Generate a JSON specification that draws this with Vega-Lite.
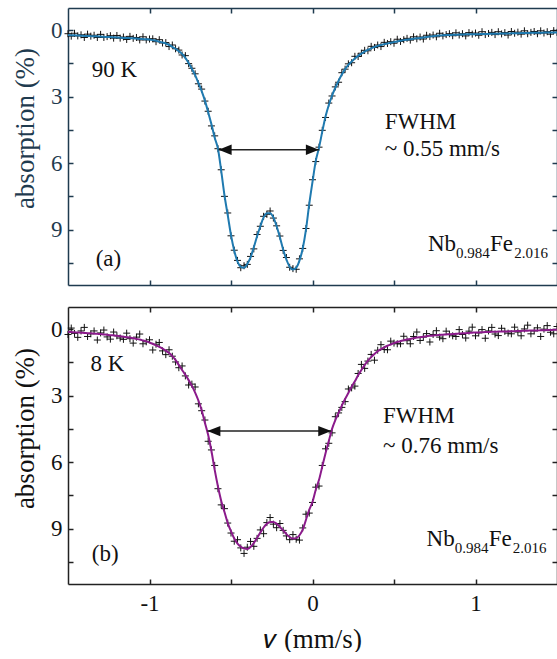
{
  "$schema": "https://vega.github.io/schema/vega-lite/v6.json",
  "padding": {"left": 11, "top": 7, "right": 0, "bottom": 0},
  "spacing": 20,
  "config": {"font": "Liberation Serif", "view": {"stroke": null}, "axis": {"grid": false, "labelFont": "Liberation Serif", "titleFont": "Liberation Serif"}, "text": {"font": "Liberation Serif"}},
  "datasets": {
    "a": [
      {"x":-1.50,"fit":0.22,"obs":0.16},{"x":-1.48,"fit":0.23,"obs":0.27},{"x":-1.46,"fit":0.23,"obs":0.14},{"x":-1.44,"fit":0.24,"obs":0.26},{"x":-1.42,"fit":0.25,"obs":0.21},{"x":-1.40,"fit":0.26,"obs":0.33},{"x":-1.38,"fit":0.26,"obs":0.18},{"x":-1.36,"fit":0.27,"obs":0.27},{"x":-1.34,"fit":0.28,"obs":0.23},{"x":-1.32,"fit":0.28,"obs":0.33},
      {"x":-1.30,"fit":0.29,"obs":0.19},{"x":-1.28,"fit":0.30,"obs":0.33},{"x":-1.26,"fit":0.31,"obs":0.29},{"x":-1.24,"fit":0.31,"obs":0.25},{"x":-1.22,"fit":0.32,"obs":0.36},{"x":-1.20,"fit":0.33,"obs":0.24},{"x":-1.18,"fit":0.34,"obs":0.36},{"x":-1.16,"fit":0.35,"obs":0.31},{"x":-1.14,"fit":0.35,"obs":0.42},{"x":-1.12,"fit":0.36,"obs":0.28},
      {"x":-1.10,"fit":0.37,"obs":0.37},{"x":-1.08,"fit":0.38,"obs":0.33},{"x":-1.06,"fit":0.39,"obs":0.44},{"x":-1.04,"fit":0.40,"obs":0.30},{"x":-1.02,"fit":0.41,"obs":0.44},{"x":-1.00,"fit":0.42,"obs":0.40},{"x":-0.98,"fit":0.45,"obs":0.39},{"x":-0.96,"fit":0.48,"obs":0.52},{"x":-0.94,"fit":0.52,"obs":0.43},{"x":-0.92,"fit":0.56,"obs":0.58},
      {"x":-0.90,"fit":0.60,"obs":0.56},{"x":-0.88,"fit":0.67,"obs":0.74},{"x":-0.86,"fit":0.75,"obs":0.67},{"x":-0.84,"fit":0.84,"obs":0.84},{"x":-0.82,"fit":0.95,"obs":0.90},{"x":-0.80,"fit":1.07,"obs":1.12},{"x":-0.78,"fit":1.25,"obs":1.15},{"x":-0.76,"fit":1.48,"obs":1.51},{"x":-0.74,"fit":1.74,"obs":1.72},{"x":-0.72,"fit":2.03,"obs":1.97},
      {"x":-0.70,"fit":2.38,"obs":2.42},{"x":-0.68,"fit":2.75,"obs":2.66},{"x":-0.66,"fit":3.18,"obs":3.20},{"x":-0.64,"fit":3.70,"obs":3.66},{"x":-0.62,"fit":4.25,"obs":4.32},{"x":-0.60,"fit":4.85,"obs":4.77},{"x":-0.58,"fit":5.35,"obs":5.35},{"x":-0.56,"fit":6.35,"obs":6.30},{"x":-0.54,"fit":7.45,"obs":7.50},{"x":-0.52,"fit":8.35,"obs":8.25},
      {"x":-0.50,"fit":9.25,"obs":9.28},{"x":-0.48,"fit":9.95,"obs":9.93},{"x":-0.46,"fit":10.45,"obs":10.39},{"x":-0.44,"fit":10.68,"obs":10.72},{"x":-0.42,"fit":10.72,"obs":10.63},{"x":-0.40,"fit":10.55,"obs":10.57},{"x":-0.38,"fit":10.25,"obs":10.21},{"x":-0.36,"fit":9.80,"obs":9.87},{"x":-0.34,"fit":9.30,"obs":9.22},{"x":-0.32,"fit":8.85,"obs":8.85},
      {"x":-0.30,"fit":8.45,"obs":8.40},{"x":-0.28,"fit":8.26,"obs":8.31},{"x":-0.26,"fit":8.26,"obs":8.16},{"x":-0.24,"fit":8.45,"obs":8.48},{"x":-0.22,"fit":8.85,"obs":8.83},{"x":-0.20,"fit":9.35,"obs":9.29},{"x":-0.18,"fit":9.90,"obs":9.94},{"x":-0.16,"fit":10.35,"obs":10.26},{"x":-0.14,"fit":10.68,"obs":10.70},{"x":-0.12,"fit":10.80,"obs":10.76},
      {"x":-0.10,"fit":10.72,"obs":10.79},{"x":-0.08,"fit":10.40,"obs":10.32},{"x":-0.06,"fit":9.85,"obs":9.85},{"x":-0.04,"fit":9.00,"obs":8.95},{"x":-0.02,"fit":7.85,"obs":7.90},{"x":0.00,"fit":6.85,"obs":6.75},{"x":0.02,"fit":5.90,"obs":5.93},{"x":0.04,"fit":5.30,"obs":5.28},{"x":0.06,"fit":4.58,"obs":4.52},{"x":0.08,"fit":3.90,"obs":3.94},
      {"x":0.10,"fit":3.38,"obs":3.29},{"x":0.12,"fit":2.95,"obs":2.97},{"x":0.14,"fit":2.60,"obs":2.56},{"x":0.16,"fit":2.28,"obs":2.35},{"x":0.18,"fit":2.00,"obs":1.92},{"x":0.20,"fit":1.76,"obs":1.76},{"x":0.22,"fit":1.57,"obs":1.52},{"x":0.24,"fit":1.42,"obs":1.47},{"x":0.26,"fit":1.28,"obs":1.18},{"x":0.28,"fit":1.16,"obs":1.19},
      {"x":0.30,"fit":1.06,"obs":1.04},{"x":0.32,"fit":0.97,"obs":0.91},{"x":0.34,"fit":0.89,"obs":0.93},{"x":0.36,"fit":0.82,"obs":0.73},{"x":0.38,"fit":0.76,"obs":0.78},{"x":0.40,"fit":0.71,"obs":0.67},{"x":0.42,"fit":0.67,"obs":0.74},{"x":0.44,"fit":0.63,"obs":0.55},{"x":0.46,"fit":0.60,"obs":0.60},{"x":0.48,"fit":0.57,"obs":0.52},
      {"x":0.50,"fit":0.54,"obs":0.59},{"x":0.52,"fit":0.51,"obs":0.41},{"x":0.54,"fit":0.48,"obs":0.51},{"x":0.56,"fit":0.45,"obs":0.43},{"x":0.58,"fit":0.43,"obs":0.37},{"x":0.60,"fit":0.41,"obs":0.45},{"x":0.62,"fit":0.39,"obs":0.30},{"x":0.64,"fit":0.37,"obs":0.39},{"x":0.66,"fit":0.35,"obs":0.31},{"x":0.68,"fit":0.33,"obs":0.40},
      {"x":0.70,"fit":0.31,"obs":0.23},{"x":0.72,"fit":0.29,"obs":0.29},{"x":0.74,"fit":0.27,"obs":0.22},{"x":0.76,"fit":0.25,"obs":0.30},{"x":0.78,"fit":0.24,"obs":0.14},{"x":0.80,"fit":0.23,"obs":0.26},{"x":0.82,"fit":0.22,"obs":0.20},{"x":0.84,"fit":0.22,"obs":0.16},{"x":0.86,"fit":0.21,"obs":0.25},{"x":0.88,"fit":0.21,"obs":0.12},
      {"x":0.90,"fit":0.20,"obs":0.22},{"x":0.92,"fit":0.20,"obs":0.16},{"x":0.94,"fit":0.19,"obs":0.26},{"x":0.96,"fit":0.19,"obs":0.11},{"x":0.98,"fit":0.18,"obs":0.18},{"x":1.00,"fit":0.18,"obs":0.13},{"x":1.02,"fit":0.18,"obs":0.23},{"x":1.04,"fit":0.17,"obs":0.07},{"x":1.06,"fit":0.17,"obs":0.20},{"x":1.08,"fit":0.17,"obs":0.15},
      {"x":1.10,"fit":0.16,"obs":0.10},{"x":1.12,"fit":0.16,"obs":0.20},{"x":1.14,"fit":0.16,"obs":0.07},{"x":1.16,"fit":0.15,"obs":0.17},{"x":1.18,"fit":0.15,"obs":0.11},{"x":1.20,"fit":0.15,"obs":0.22},{"x":1.22,"fit":0.14,"obs":0.06},{"x":1.24,"fit":0.14,"obs":0.14},{"x":1.26,"fit":0.14,"obs":0.09},{"x":1.28,"fit":0.13,"obs":0.18},
      {"x":1.30,"fit":0.13,"obs":0.03},{"x":1.32,"fit":0.13,"obs":0.16},{"x":1.34,"fit":0.12,"obs":0.10},{"x":1.36,"fit":0.12,"obs":0.06},{"x":1.38,"fit":0.12,"obs":0.16},{"x":1.40,"fit":0.12,"obs":0.03},{"x":1.42,"fit":0.11,"obs":0.13},{"x":1.44,"fit":0.11,"obs":0.07},{"x":1.46,"fit":0.11,"obs":0.18},{"x":1.48,"fit":0.10,"obs":0.02},
      {"x":1.50,"fit":0.10,"obs":0.10}
    ],
    "b": [
      {"x":-1.50,"fit":0.12,"obs":0.24},{"x":-1.48,"fit":0.13,"obs":-0.05},{"x":-1.46,"fit":0.14,"obs":0.19},{"x":-1.44,"fit":0.15,"obs":0.37},{"x":-1.42,"fit":0.16,"obs":0.08},{"x":-1.40,"fit":0.17,"obs":-0.08},{"x":-1.38,"fit":0.18,"obs":0.33},{"x":-1.36,"fit":0.19,"obs":0.21},{"x":-1.34,"fit":0.20,"obs":0.08},{"x":-1.32,"fit":0.21,"obs":0.49},
      {"x":-1.30,"fit":0.22,"obs":0.17},{"x":-1.28,"fit":0.24,"obs":0.04},{"x":-1.26,"fit":0.25,"obs":0.35},{"x":-1.24,"fit":0.27,"obs":0.45},{"x":-1.22,"fit":0.28,"obs":0.13},{"x":-1.20,"fit":0.30,"obs":0.30},{"x":-1.18,"fit":0.32,"obs":0.40},{"x":-1.16,"fit":0.34,"obs":0.46},{"x":-1.14,"fit":0.36,"obs":0.18},{"x":-1.12,"fit":0.38,"obs":0.43},
      {"x":-1.10,"fit":0.41,"obs":0.63},{"x":-1.08,"fit":0.44,"obs":0.36},{"x":-1.06,"fit":0.47,"obs":0.22},{"x":-1.04,"fit":0.51,"obs":0.66},{"x":-1.02,"fit":0.55,"obs":0.57},{"x":-1.00,"fit":0.60,"obs":0.48},{"x":-0.98,"fit":0.66,"obs":0.94},{"x":-0.96,"fit":0.73,"obs":0.68},{"x":-0.94,"fit":0.80,"obs":0.60},{"x":-0.92,"fit":0.88,"obs":0.98},
      {"x":-0.90,"fit":0.97,"obs":1.15},{"x":-0.88,"fit":1.08,"obs":0.93},{"x":-0.86,"fit":1.22,"obs":1.22},{"x":-0.84,"fit":1.40,"obs":1.48},{"x":-0.82,"fit":1.62,"obs":1.74},{"x":-0.80,"fit":1.84,"obs":1.66},{"x":-0.78,"fit":2.06,"obs":2.11},{"x":-0.76,"fit":2.30,"obs":2.52},{"x":-0.74,"fit":2.56,"obs":2.48},{"x":-0.72,"fit":2.86,"obs":2.61},
      {"x":-0.70,"fit":3.22,"obs":3.37},{"x":-0.68,"fit":3.66,"obs":3.68},{"x":-0.66,"fit":4.22,"obs":4.10},{"x":-0.64,"fit":4.78,"obs":5.06},{"x":-0.62,"fit":5.50,"obs":5.45},{"x":-0.60,"fit":6.35,"obs":6.15},{"x":-0.58,"fit":7.10,"obs":7.20},{"x":-0.56,"fit":7.75,"obs":7.93},{"x":-0.54,"fit":8.25,"obs":8.10},{"x":-0.52,"fit":8.75,"obs":8.75},
      {"x":-0.50,"fit":9.12,"obs":9.20},{"x":-0.48,"fit":9.45,"obs":9.57},{"x":-0.46,"fit":9.68,"obs":9.50},{"x":-0.44,"fit":9.82,"obs":9.87},{"x":-0.42,"fit":9.90,"obs":10.12},{"x":-0.40,"fit":9.92,"obs":9.84},{"x":-0.38,"fit":9.83,"obs":9.58},{"x":-0.36,"fit":9.65,"obs":9.80},{"x":-0.34,"fit":9.42,"obs":9.44},{"x":-0.32,"fit":9.18,"obs":9.06},
      {"x":-0.30,"fit":8.95,"obs":9.23},{"x":-0.28,"fit":8.78,"obs":8.73},{"x":-0.26,"fit":8.70,"obs":8.50},{"x":-0.24,"fit":8.70,"obs":8.80},{"x":-0.22,"fit":8.78,"obs":8.96},{"x":-0.20,"fit":8.92,"obs":8.77},{"x":-0.18,"fit":9.08,"obs":9.08},{"x":-0.16,"fit":9.25,"obs":9.33},{"x":-0.14,"fit":9.38,"obs":9.50},{"x":-0.12,"fit":9.45,"obs":9.27},
      {"x":-0.10,"fit":9.43,"obs":9.48},{"x":-0.08,"fit":9.30,"obs":9.52},{"x":-0.06,"fit":9.05,"obs":8.97},{"x":-0.04,"fit":8.60,"obs":8.35},{"x":-0.02,"fit":8.15,"obs":8.30},{"x":0.00,"fit":7.80,"obs":7.82},{"x":0.02,"fit":7.25,"obs":7.13},{"x":0.04,"fit":6.80,"obs":7.08},{"x":0.06,"fit":6.20,"obs":6.15},{"x":0.08,"fit":5.60,"obs":5.40},
      {"x":0.10,"fit":5.05,"obs":5.15},{"x":0.12,"fit":4.50,"obs":4.68},{"x":0.14,"fit":4.10,"obs":3.95},{"x":0.16,"fit":3.78,"obs":3.78},{"x":0.18,"fit":3.45,"obs":3.53},{"x":0.20,"fit":3.15,"obs":3.27},{"x":0.22,"fit":2.88,"obs":2.70},{"x":0.24,"fit":2.60,"obs":2.65},{"x":0.26,"fit":2.35,"obs":2.57},{"x":0.28,"fit":2.08,"obs":2.00},
      {"x":0.30,"fit":1.84,"obs":1.59},{"x":0.32,"fit":1.62,"obs":1.77},{"x":0.34,"fit":1.42,"obs":1.44},{"x":0.36,"fit":1.26,"obs":1.14},{"x":0.38,"fit":1.12,"obs":1.40},{"x":0.40,"fit":1.00,"obs":0.95},{"x":0.42,"fit":0.90,"obs":0.70},{"x":0.44,"fit":0.82,"obs":0.92},{"x":0.46,"fit":0.75,"obs":0.93},{"x":0.48,"fit":0.69,"obs":0.54},
      {"x":0.50,"fit":0.63,"obs":0.63},{"x":0.52,"fit":0.58,"obs":0.66},{"x":0.54,"fit":0.54,"obs":0.66},{"x":0.56,"fit":0.50,"obs":0.32},{"x":0.58,"fit":0.47,"obs":0.52},{"x":0.60,"fit":0.44,"obs":0.66},{"x":0.62,"fit":0.41,"obs":0.33},{"x":0.64,"fit":0.38,"obs":0.13},{"x":0.66,"fit":0.36,"obs":0.51},{"x":0.68,"fit":0.34,"obs":0.36},
      {"x":0.70,"fit":0.32,"obs":0.20},{"x":0.72,"fit":0.30,"obs":0.58},{"x":0.74,"fit":0.29,"obs":0.24},{"x":0.76,"fit":0.27,"obs":0.07},{"x":0.78,"fit":0.26,"obs":0.36},{"x":0.80,"fit":0.25,"obs":0.43},{"x":0.82,"fit":0.24,"obs":0.09},{"x":0.84,"fit":0.23,"obs":0.23},{"x":0.86,"fit":0.22,"obs":0.30},{"x":0.88,"fit":0.21,"obs":0.33},
      {"x":0.90,"fit":0.20,"obs":0.02},{"x":0.92,"fit":0.19,"obs":0.24},{"x":0.94,"fit":0.18,"obs":0.40},{"x":0.96,"fit":0.17,"obs":0.09},{"x":0.98,"fit":0.16,"obs":-0.09},{"x":1.00,"fit":0.15,"obs":0.30},{"x":1.02,"fit":0.15,"obs":0.17},{"x":1.04,"fit":0.14,"obs":0.02},{"x":1.06,"fit":0.13,"obs":0.41},{"x":1.08,"fit":0.13,"obs":0.08},
      {"x":1.10,"fit":0.12,"obs":-0.08},{"x":1.12,"fit":0.12,"obs":0.22},{"x":1.14,"fit":0.11,"obs":0.29},{"x":1.16,"fit":0.11,"obs":-0.04},{"x":1.18,"fit":0.10,"obs":0.10},{"x":1.20,"fit":0.10,"obs":0.18},{"x":1.22,"fit":0.09,"obs":0.21},{"x":1.24,"fit":0.09,"obs":-0.09},{"x":1.26,"fit":0.08,"obs":0.13},{"x":1.28,"fit":0.08,"obs":0.30},
      {"x":1.30,"fit":0.07,"obs":-0.01},{"x":1.32,"fit":0.07,"obs":-0.18},{"x":1.34,"fit":0.06,"obs":0.21},{"x":1.36,"fit":0.06,"obs":0.08},{"x":1.38,"fit":0.06,"obs":-0.06},{"x":1.40,"fit":0.05,"obs":0.33},{"x":1.42,"fit":0.05,"obs":0.00},{"x":1.44,"fit":0.04,"obs":-0.16},{"x":1.46,"fit":0.04,"obs":0.14},{"x":1.48,"fit":0.03,"obs":0.21},
      {"x":1.50,"fit":0.03,"obs":-0.12}
    ],
    "arrowA": [{"x1":-0.576,"x2":0.039,"y":5.4}],
    "arrowB": [{"x1":-0.645,"x2":0.115,"y":4.6}],
    "textA": [
      {"x":-1.354,"y":2.1,"label":"90 K"},
      {"x":-1.33,"y":10.66,"label":"(a)"},
      {"x":0.443,"y":4.47,"label":"FWHM"},
      {"x":0.443,"y":5.7,"label":"~ 0.55 mm/s"},
      {"x":0.708,"y":9.97,"label":"Nb"},
      {"x":1.089,"y":9.97,"label":"Fe"}
    ],
    "subA": [
      {"x":0.88,"y":9.97,"label":"0.984"},
      {"x":1.237,"y":9.97,"label":"2.016"}
    ],
    "textB": [
      {"x":-1.362,"y":1.91,"label":"8 K"},
      {"x":-1.354,"y":10.47,"label":"(b)"},
      {"x":0.433,"y":4.22,"label":"FWHM"},
      {"x":0.433,"y":5.58,"label":"~ 0.76 mm/s"},
      {"x":0.70,"y":9.79,"label":"Nb"},
      {"x":1.081,"y":9.79,"label":"Fe"}
    ],
    "subB": [
      {"x":0.872,"y":9.79,"label":"0.984"},
      {"x":1.229,"y":9.79,"label":"2.016"}
    ]
  },
  "vconcat": [
    {
      "width": 489, "height": 277,
      "resolve": {"axis": {"x": "independent", "y": "independent"}},
      "layer": [
        {
          "data": {"name": "a"},
          "mark": {"type": "point", "shape": "M-1,0H1M0,-1V1", "size": 49, "filled": false, "stroke": "#111111", "strokeWidth": 1, "opacity": 1},
          "encoding": {
            "x": {"field": "x", "type": "quantitative", "scale": {"domain": [-1.5, 1.5], "nice": false, "zero": false},
              "axis": {"orient": "bottom", "values": [-1, -0.5, 0, 0.5, 1], "labels": false, "title": null, "tickSize": -5, "tickWidth": 1.5, "domainWidth": 1.5, "domainColor": "#1f3b4f", "tickColor": "#1f3b4f"}},
            "y": {"field": "obs", "type": "quantitative", "scale": {"domain": [-1, 11.5], "reverse": true, "nice": false, "zero": false},
              "axis": {"orient": "left", "values": [0, 1.5, 3, 4.5, 6, 7.5, 9, 10.5], "labelExpr": "datum.value % 3 === 0 ? '' + datum.value : ''", "tickSize": -5, "tickWidth": 1.5, "domainWidth": 1.5, "domainColor": "#1f3b4f", "tickColor": "#1f3b4f", "labelPadding": 11, "labelFontSize": 23, "labelColor": "#1f3b4f", "title": "absorption (%)", "titleFontSize": 27, "titleFontWeight": "normal", "titleColor": "#1f3b4f", "titleX": -35, "titleY": 120, "titleAngle": -90, "titleAlign": "center", "titleBaseline": "alphabetic"}}
          }
        },
        {
          "data": {"name": "a"},
          "mark": {"type": "line", "stroke": "#1f7ab0", "strokeWidth": 2, "interpolate": "monotone"},
          "encoding": {
            "x": {"field": "x", "type": "quantitative", "scale": {"domain": [-1.5, 1.5], "nice": false, "zero": false},
              "axis": {"orient": "top", "values": [-1, -0.5, 0, 0.5, 1], "labels": false, "title": null, "tickSize": -5, "tickWidth": 1.5, "domainWidth": 1.5, "domainColor": "#1f3b4f", "tickColor": "#1f3b4f"}},
            "y": {"field": "fit", "type": "quantitative", "scale": {"domain": [-1, 11.5], "reverse": true, "nice": false, "zero": false},
              "axis": {"orient": "right", "values": [0, 1.5, 3, 4.5, 6, 7.5, 9, 10.5], "labels": false, "title": null, "tickSize": -5, "tickWidth": 1.5, "domainWidth": 1.5, "domainColor": "#1f3b4f", "tickColor": "#1f3b4f"}}
          }
        },
        {
          "data": {"name": "arrowA"},
          "mark": {"type": "rule", "stroke": "#222222", "strokeWidth": 1.5},
          "encoding": {
            "x": {"field": "x1", "type": "quantitative", "axis": null},
            "x2": {"field": "x2"},
            "y": {"field": "y", "type": "quantitative", "axis": null}
          }
        },
        {
          "data": {"name": "arrowA"},
          "mark": {"type": "point", "shape": "M-1,0L1,-0.8L1,0.8Z", "size": 169, "filled": true, "fill": "#111111", "stroke": null, "opacity": 1, "xOffset": 6.5},
          "encoding": {
            "x": {"field": "x1", "type": "quantitative", "axis": null},
            "y": {"field": "y", "type": "quantitative", "axis": null}
          }
        },
        {
          "data": {"name": "arrowA"},
          "mark": {"type": "point", "shape": "M1,0L-1,-0.8L-1,0.8Z", "size": 169, "filled": true, "fill": "#111111", "stroke": null, "opacity": 1, "xOffset": -6.5},
          "encoding": {
            "x": {"field": "x2", "type": "quantitative", "axis": null},
            "y": {"field": "y", "type": "quantitative", "axis": null}
          }
        },
        {
          "data": {"name": "textA"},
          "mark": {"type": "text", "align": "left", "baseline": "alphabetic", "font": "Liberation Serif", "fontSize": 23, "fill": "#111111"},
          "encoding": {
            "x": {"field": "x", "type": "quantitative", "axis": null},
            "y": {"field": "y", "type": "quantitative", "axis": null},
            "text": {"field": "label"}
          }
        },
        {
          "data": {"name": "subA"},
          "mark": {"type": "text", "align": "left", "baseline": "alphabetic", "font": "Liberation Serif", "fontSize": 15, "dy": 7, "fill": "#111111"},
          "encoding": {
            "x": {"field": "x", "type": "quantitative", "axis": null},
            "y": {"field": "y", "type": "quantitative", "axis": null},
            "text": {"field": "label"}
          }
        }
      ]
    },
    {
      "width": 489, "height": 277,
      "resolve": {"axis": {"x": "independent", "y": "independent"}},
      "layer": [
        {
          "data": {"name": "b"},
          "mark": {"type": "point", "shape": "M-1,0H1M0,-1V1", "size": 49, "filled": false, "stroke": "#111111", "strokeWidth": 1, "opacity": 1},
          "encoding": {
            "x": {"field": "x", "type": "quantitative", "scale": {"domain": [-1.5, 1.5], "nice": false, "zero": false},
              "axis": {"orient": "bottom", "values": [-1, -0.5, 0, 0.5, 1], "labelExpr": "datum.value % 1 === 0 ? '' + datum.value : ''", "tickSize": -5, "tickWidth": 1.5, "domainWidth": 1.5, "domainColor": "#222222", "tickColor": "#222222", "labelPadding": 13, "labelFontSize": 23, "labelColor": "#111111", "title": "𝑣 (mm/s)", "titleFontSize": 27, "titleFontWeight": "normal", "titleColor": "#111111", "titleY": 63, "titleBaseline": "alphabetic"}},
            "y": {"field": "obs", "type": "quantitative", "scale": {"domain": [-1, 11.5], "reverse": true, "nice": false, "zero": false},
              "axis": {"orient": "left", "values": [0, 1.5, 3, 4.5, 6, 7.5, 9, 10.5], "labelExpr": "datum.value % 3 === 0 ? '' + datum.value : ''", "tickSize": -5, "tickWidth": 1.5, "domainWidth": 1.5, "domainColor": "#222222", "tickColor": "#222222", "labelPadding": 11, "labelFontSize": 23, "labelColor": "#111111", "title": "absorption (%)", "titleFontSize": 27, "titleFontWeight": "normal", "titleColor": "#111111", "titleX": -35, "titleY": 121, "titleAngle": -90, "titleAlign": "center", "titleBaseline": "alphabetic"}}
          }
        },
        {
          "data": {"name": "b"},
          "mark": {"type": "line", "stroke": "#8b1a8b", "strokeWidth": 2, "interpolate": "monotone"},
          "encoding": {
            "x": {"field": "x", "type": "quantitative", "scale": {"domain": [-1.5, 1.5], "nice": false, "zero": false},
              "axis": {"orient": "top", "values": [-1, -0.5, 0, 0.5, 1], "labels": false, "title": null, "tickSize": -5, "tickWidth": 1.5, "domainWidth": 1.5, "domainColor": "#222222", "tickColor": "#222222"}},
            "y": {"field": "fit", "type": "quantitative", "scale": {"domain": [-1, 11.5], "reverse": true, "nice": false, "zero": false},
              "axis": {"orient": "right", "values": [0, 1.5, 3, 4.5, 6, 7.5, 9, 10.5], "labels": false, "title": null, "tickSize": -5, "tickWidth": 1.5, "domainWidth": 1.5, "domainColor": "#222222", "tickColor": "#222222"}}
          }
        },
        {
          "data": {"name": "arrowB"},
          "mark": {"type": "rule", "stroke": "#222222", "strokeWidth": 1.5},
          "encoding": {
            "x": {"field": "x1", "type": "quantitative", "axis": null},
            "x2": {"field": "x2"},
            "y": {"field": "y", "type": "quantitative", "axis": null}
          }
        },
        {
          "data": {"name": "arrowB"},
          "mark": {"type": "point", "shape": "M-1,0L1,-0.8L1,0.8Z", "size": 169, "filled": true, "fill": "#111111", "stroke": null, "opacity": 1, "xOffset": 6.5},
          "encoding": {
            "x": {"field": "x1", "type": "quantitative", "axis": null},
            "y": {"field": "y", "type": "quantitative", "axis": null}
          }
        },
        {
          "data": {"name": "arrowB"},
          "mark": {"type": "point", "shape": "M1,0L-1,-0.8L-1,0.8Z", "size": 169, "filled": true, "fill": "#111111", "stroke": null, "opacity": 1, "xOffset": -6.5},
          "encoding": {
            "x": {"field": "x2", "type": "quantitative", "axis": null},
            "y": {"field": "y", "type": "quantitative", "axis": null}
          }
        },
        {
          "data": {"name": "textB"},
          "mark": {"type": "text", "align": "left", "baseline": "alphabetic", "font": "Liberation Serif", "fontSize": 23, "fill": "#111111"},
          "encoding": {
            "x": {"field": "x", "type": "quantitative", "axis": null},
            "y": {"field": "y", "type": "quantitative", "axis": null},
            "text": {"field": "label"}
          }
        },
        {
          "data": {"name": "subB"},
          "mark": {"type": "text", "align": "left", "baseline": "alphabetic", "font": "Liberation Serif", "fontSize": 15, "dy": 7, "fill": "#111111"},
          "encoding": {
            "x": {"field": "x", "type": "quantitative", "axis": null},
            "y": {"field": "y", "type": "quantitative", "axis": null},
            "text": {"field": "label"}
          }
        }
      ]
    }
  ]
}
